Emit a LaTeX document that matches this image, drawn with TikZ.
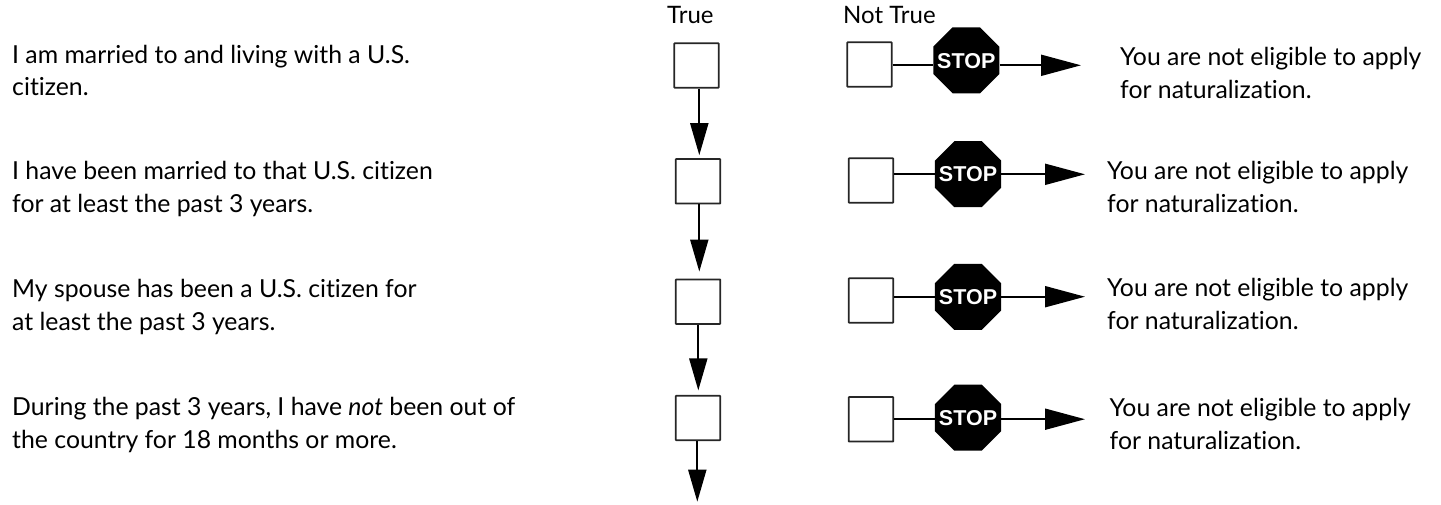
\documentclass[tikz,border=0pt]{standalone}
\usepackage{fontspec}
\setmainfont{Lato}[Ligatures=NoCommon]
\usetikzlibrary{shapes.geometric,arrows.meta}
\newcommand{\stoptext}{\raisebox{-7.7pt}[0pt][0pt]{\makebox[0pt]{STOP}}}
\tikzset{
  x=1pt,y=-1pt,
  chk/.style={draw=black!85,line width=1.7pt,fill=white,minimum size=44.5pt,inner sep=0pt,rounded corners=0.5pt},
  stopsign/.style={regular polygon,regular polygon sides=8,fill=black,draw=none,inner sep=0pt,minimum size=71.5pt,text=white,font=\fontspec{Liberation Sans}\bfseries\fontsize{21.5}{22}\selectfont},
  lbl/.style={anchor=base west,align=left,inner sep=0pt,font=\fontsize{24.8}{32.5}\selectfont},
  hd/.style={anchor=base west,inner sep=0pt,font=\fontsize{24}{28}\selectfont},
  vconn/.style={line width=2pt,-{Triangle[length=32pt,width=18pt]}},
  hconn/.style={line width=1.9pt,-{Triangle[length=40pt,width=21pt]}},
  plainconn/.style={line width=1.9pt},
}
\begin{document}
\begin{tikzpicture}
\useasboundingbox (0,0) rectangle (1441,504);
\node[hd] (ht) at (667,23.5) {True};
\node[hd] (hn) at (843,23.5) {Not True};
% left labels (anchored on the last line's baseline)
\node[lbl] (l1) at (12,95.8) {I am married to and living with a U.S.\\citizen.};
\node[lbl] (l2) at (12,212) {I have been married to that U.S. citizen\\for at least the past 3 years.};
\node[lbl] (l3) at (12,330) {My spouse has been a U.S. citizen for\\at least the past 3 years.};
\node[lbl] (l4) at (12,448.3) {During the past 3 years, I have \textit{not} been out of\\the country for 18 months or more.};
% true boxes
\node[chk] (t1) at (696.5,65.5) {};
\node[chk] (t2) at (698,181.3) {};
\node[chk] (t3) at (698,301.7) {};
\node[chk] (t4) at (698,418) {};
% not-true boxes
\node[chk] (n1) at (869.5,64.5) {};
\node[chk] (n2) at (871,180.5) {};
\node[chk] (n3) at (871,300.5) {};
\node[chk] (n4) at (871,419.3) {};
% stop signs
\node[stopsign] (s1) at (966.3,60.3) {\stoptext};
\node[stopsign] (s2) at (968,174.2) {\stoptext};
\node[stopsign] (s3) at (968,296.8) {\stoptext};
\node[stopsign] (s4) at (968,417.7) {\stoptext};
% right labels
\node[lbl] (r1) at (1120,98.3) {You are not eligible to apply\\for naturalization.};
\node[lbl] (r2) at (1107,212) {You are not eligible to apply\\for naturalization.};
\node[lbl] (r3) at (1107,329) {You are not eligible to apply\\for naturalization.};
\node[lbl] (r4) at (1109.5,449) {You are not eligible to apply\\for naturalization.};
% free ends
\coordinate (e1) at (1081,65.3);
\coordinate (e2) at (1085,174.3);
\coordinate (e3) at (1085,296.7);
\coordinate (e4) at (1085,419.2);
\coordinate (d4) at (697.3,501.7);
% vertical connectors
\draw[vconn,shorten >=3pt] ([xshift=2.8pt]t1.south) -- ([xshift=1.3pt]t2.north);
\draw[vconn,shorten >=7pt] ([xshift=1.3pt]t2.south) -- ([xshift=1.3pt]t3.north);
\draw[vconn,shorten >=4.5pt] ([xshift=0.3pt]t3.south) -- ([xshift=0.3pt]t4.north);
\draw[vconn] (t4.south -| d4) -- (d4);
% horizontal connectors
\foreach \i in {1,2,3,4}{
  \draw[plainconn] (n\i.east |- e\i) -- (s\i.west |- e\i);
  \draw[hconn] (s\i.east |- e\i) -- (e\i);
}
\end{tikzpicture}
\end{document}
